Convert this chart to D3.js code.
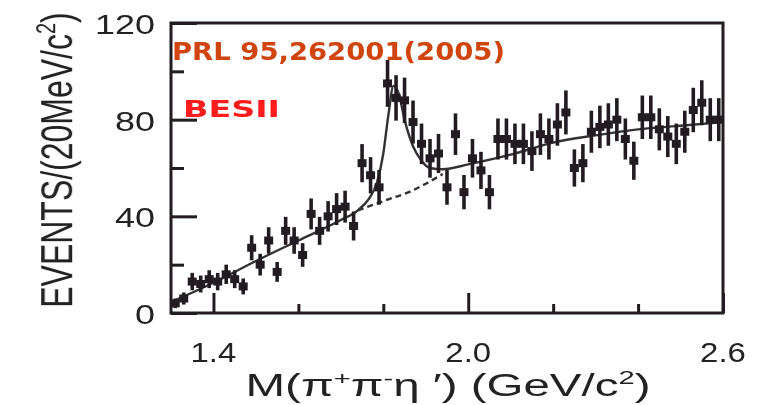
<!DOCTYPE html>
<html>
<head>
<meta charset="utf-8">
<script src="https://cdn.jsdelivr.net/npm/d3@7"></script>
<style>
  html, body { margin: 0; padding: 0; background: #ffffff; }
  svg { display: block; }
</style>
</head>
<body>
<svg id="chart" width="777" height="405"></svg>
<script>
// Invariant-mass bins (GeV/c^2, bin centres, 20 MeV wide)
const binCenters = [
  1.31, 1.33, 1.35, 1.37, 1.39, 1.41, 1.43, 1.45, 1.47, 1.49,
  1.51, 1.53, 1.55, 1.57, 1.59, 1.61, 1.63, 1.65, 1.67, 1.69,
  1.71, 1.73, 1.75, 1.77, 1.79, 1.81, 1.83, 1.85, 1.87, 1.89,
  1.91, 1.93, 1.95, 1.97, 1.99, 2.01, 2.03, 2.05, 2.07, 2.09,
  2.11, 2.13, 2.15, 2.17, 2.19, 2.21, 2.23, 2.25, 2.27, 2.29,
  2.31, 2.33, 2.35, 2.37, 2.39, 2.41, 2.43, 2.45, 2.47, 2.49,
  2.51, 2.53, 2.55, 2.57, 2.59
];
// Events per bin
const events = [
   4,  6, 13, 12, 14, 13, 16, 14, 11, 27,
  20, 30, 17, 34, 30, 24, 41, 34, 40, 43,
  44, 36, 62, 57, 52, 95, 89, 88, 79, 70,
  64, 66, 52, 74, 50, 64, 59, 50, 72, 72,
  70, 70, 67, 74, 72, 78, 83, 60, 62, 75,
  77, 78, 80, 72, 63, 81, 81, 76, 73, 70,
  75, 84, 87, 80, 80
];
// Statistical uncertainty per bin
const errors = [
  2.0, 2.5, 3.6, 3.5, 3.7, 3.6, 4.0, 3.7, 3.3, 5.2,
  4.5, 5.5, 4.1, 5.8, 5.5, 4.9, 6.4, 5.8, 6.3, 6.6,
  6.6, 6.0, 7.9, 7.5, 7.2, 9.7, 9.4, 9.4, 8.9, 8.4,
  8.0, 8.1, 7.2, 8.6, 7.1, 8.0, 7.7, 7.1, 8.5, 8.5,
  8.4, 8.4, 8.2, 8.6, 8.5, 8.8, 9.1, 7.7, 7.9, 8.7,
  8.8, 8.8, 8.9, 8.5, 7.9, 9.0, 9.0, 8.7, 8.5, 8.4,
  8.7, 9.2, 9.3, 8.9, 8.9
];
// Total fit (signal + background)
const fitX = [1.30, 1.40, 1.50, 1.60, 1.70, 1.74, 1.765, 1.785, 1.80, 1.812, 1.824, 1.836, 1.85, 1.87, 1.89, 1.91, 1.94, 2.00, 2.10, 2.20, 2.30, 2.40, 2.50, 2.60];
const fitY = [4.5, 12.5, 21.5, 30, 38.5, 42.5, 47, 54, 66, 82, 94, 91, 80, 69, 63, 60, 59.5, 61.5, 65.5, 70.5, 73.5, 76, 77.5, 79];
// Background-only fit under the peak
const bkgX = [1.74, 1.78, 1.82, 1.86, 1.90, 1.94];
const bkgY = [42.5, 45, 47.5, 50, 53.5, 57.5];

const xTicksMajor = [1.4, 2.0, 2.6];
const xTicksMinor = [1.6, 1.8, 2.2, 2.4];
const yTicksMajor = [0, 40, 80, 120];
const yTicksMinor = [20, 60, 100];

const ink = "#231f20";
const svg = d3.select("#chart");

// Soft rendering of the whole figure
svg.append("defs").append("filter").attr("id", "soft")
  .attr("x", "-5%").attr("y", "-5%").attr("width", "110%").attr("height", "110%")
  .append("feGaussianBlur").attr("stdDeviation", 0.55);
const root = svg.append("g").attr("filter", "url(#soft)");

const x = d3.scaleLinear().domain([1.3, 2.6]).range([171, 723]);
const y = d3.scaleLinear().domain([0, 120]).range([313, 23]);

// Widen text horizontally (figure text is drawn in a wide face)
function stretch(sel, k) {
  sel.each(function () {
    const w = this.getComputedTextLength();
    d3.select(this).attr("textLength", w * k).attr("lengthAdjust", "spacingAndGlyphs");
  });
}

const plot = root.append("g");

// Fit curves
const line = d3.line().x((d) => x(d[0])).y((d) => y(d[1])).curve(d3.curveMonotoneX);
plot.append("path")
  .datum(bkgX.map((v, i) => [v, bkgY[i]]))
  .attr("d", line)
  .attr("fill", "none")
  .attr("stroke", "#333")
  .attr("stroke-width", 2.4)
  .attr("stroke-dasharray", "6,4");
plot.append("path")
  .datum(fitX.map((v, i) => [v, fitY[i]]))
  .attr("d", line)
  .attr("fill", "none")
  .attr("stroke", "#333")
  .attr("stroke-width", 2.4);

// Data points with error bars
const pts = plot.append("g").selectAll("g")
  .data(binCenters.map((c, i) => ({ c, v: events[i], e: errors[i] })))
  .join("g");
pts.append("line")
  .attr("x1", (d) => x(d.c)).attr("x2", (d) => x(d.c))
  .attr("y1", (d) => y(d.v + d.e)).attr("y2", (d) => y(Math.max(0, d.v - d.e)))
  .attr("stroke", ink).attr("stroke-width", 3.6);
pts.append("rect")
  .attr("x", (d) => x(d.c) - 4.5).attr("y", (d) => y(d.v) - 4)
  .attr("width", 9).attr("height", 8)
  .attr("fill", ink);

// Inward ticks
const axes = root.append("g");
function yTicks(vals, len) {
  axes.append("g").attr("transform", `translate(${x(1.3)},0)`)
    .call(d3.axisLeft(y).tickValues(vals).tickSize(-len).tickFormat(""))
    .call((g) => g.select(".domain").remove())
    .call((g) => g.selectAll("line").attr("stroke", ink).attr("stroke-width", 3));
}
function xTicks(vals, len) {
  axes.append("g").attr("transform", `translate(0,${y(0)})`)
    .call(d3.axisBottom(x).tickValues(vals).tickSize(-len).tickFormat(""))
    .call((g) => g.select(".domain").remove())
    .call((g) => g.selectAll("line").attr("stroke", ink).attr("stroke-width", 3));
}
yTicks(yTicksMajor, 26);
yTicks(yTicksMinor, 13);
xTicks(xTicksMajor, 20);
xTicks(xTicksMinor, 9);

// Frame
axes.append("rect")
  .attr("x", x(1.3)).attr("y", y(120))
  .attr("width", x(2.6) - x(1.3)).attr("height", y(0) - y(120))
  .attr("fill", "none").attr("stroke", ink).attr("stroke-width", 3);

// Tick labels
const labelFont = "'Liberation Sans', Arial, sans-serif";
root.append("g").selectAll("text").data(yTicksMajor).join("text")
  .attr("x", 155).attr("y", (d) => y(d) + 11)
  .attr("text-anchor", "end")
  .attr("font-family", labelFont).attr("font-size", 27).attr("fill", "#222")
  .text((d) => d)
  .call(stretch, 1.33);
root.append("g").selectAll("text").data(xTicksMajor).join("text")
  .attr("x", (d) => x(d)).attr("y", 362)
  .attr("text-anchor", "middle")
  .attr("font-family", labelFont).attr("font-size", 27).attr("fill", "#222")
  .text((d) => d.toFixed(1))
  .call(stretch, 1.22);

// Axis titles
const xt = root.append("text")
  .attr("x", 448).attr("y", 396)
  .attr("text-anchor", "middle")
  .attr("font-family", labelFont).attr("font-size", 31).attr("fill", "#222");
xt.append("tspan").text("M(π");
xt.append("tspan").attr("font-size", 19).attr("dy", -11).text("+");
xt.append("tspan").attr("dy", 11).text("π");
xt.append("tspan").attr("font-size", 19).attr("dy", -11).text("-");
xt.append("tspan").attr("dy", 11).text("η ′)  (GeV/c");
xt.append("tspan").attr("font-size", 19).attr("dy", -12).text("2");
xt.append("tspan").attr("dy", 12).text(")");
xt.attr("textLength", 405).attr("lengthAdjust", "spacingAndGlyphs");

// Vertical title: rotated, then widened across its height
const yt = root.append("text")
  .attr("transform", "translate(72,160) scale(1.4,1) rotate(-90)")
  .attr("text-anchor", "middle")
  .attr("font-family", labelFont).attr("font-size", 32).attr("fill", "#222");
yt.append("tspan").text("EVENTS/(20MeV/c");
yt.append("tspan").attr("font-size", 20).attr("dy", -12).text("2");
yt.append("tspan").attr("dy", 12).text(")");

// Annotations
root.append("text")
  .attr("x", 172).attr("y", 60)
  .attr("font-family", "'DejaVu Sans', Verdana, sans-serif").attr("font-size", 25)
  .attr("font-weight", "bold")
  .attr("fill", "#cf4510")
  .attr("textLength", 333).attr("lengthAdjust", "spacingAndGlyphs")
  .text("PRL 95,262001(2005)");
root.append("text")
  .attr("x", 183).attr("y", 117)
  .attr("font-family", "'DejaVu Sans', Verdana, sans-serif").attr("font-size", 23)
  .attr("font-weight", "bold")
  .attr("fill", "#ff1a1a")
  .attr("textLength", 97).attr("lengthAdjust", "spacingAndGlyphs")
  .text("BESII");
</script>
</body>
</html>
